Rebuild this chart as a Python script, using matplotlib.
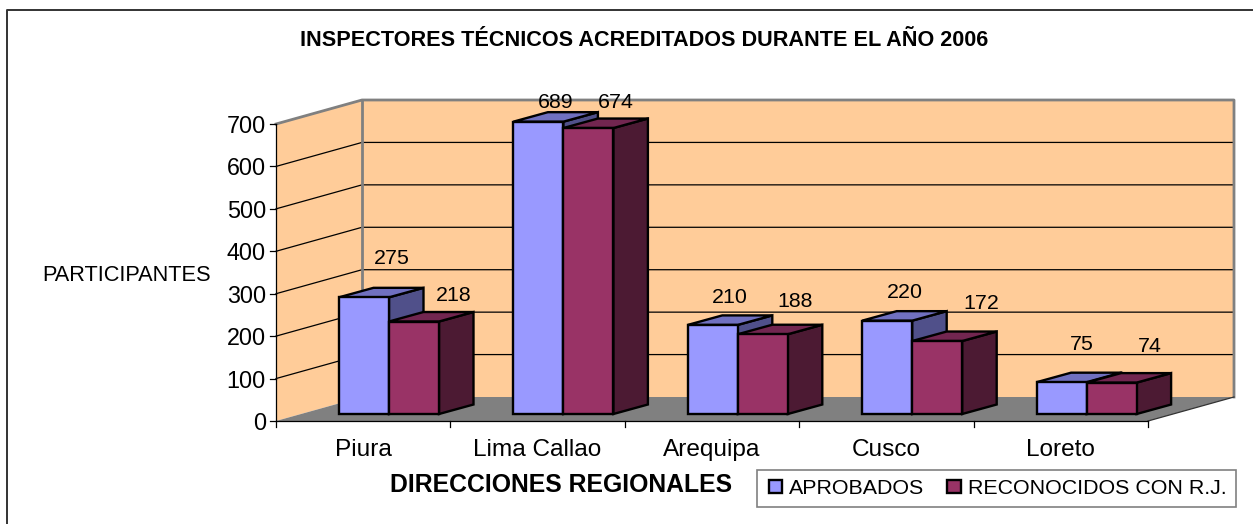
"""Inspectores tecnicos chart drawn as a pseudo 3D column chart."""

import matplotlib

matplotlib.use("Agg")
import matplotlib.pyplot as plt
from matplotlib.patches import Patch, Polygon, Rectangle

plt.rcParams["font.family"] = ["Liberation Sans", "DejaVu Sans"]

REGIONS = ["Piura", "Lima Callao", "Arequipa", "Cusco", "Loreto"]
APROBADOS = [275, 689, 210, 220, 75]
RECONOCIDOS = [218, 674, 188, 172, 74]
Y_TICKS = [0, 100, 200, 300, 400, 500, 600, 700]

TITLE = "INSPECTORES TÉCNICOS ACREDITADOS DURANTE EL AÑO 2006"
X_LABEL = "DIRECCIONES REGIONALES"
Y_LABEL = "PARTICIPANTES"
SERIES_NAMES = ["APROBADOS", "RECONOCIDOS CON R.J."]

# layout: scales from data units to image pixels
W, H = 1253, 524
X0_PX, CAT_PX = 276.0, 174.4
Y0_PX, UNIT_PX = 421.0, 297.0 / 700.0
WALL_DX, WALL_DY = 86.0 / CAT_PX, 24.0 / UNIT_PX
BAR_DX, BAR_DY = 34.5 / CAT_PX, 9.5 / UNIT_PX
BAR_START = 63.0 / CAT_PX
BAR_W = 50.0 / CAT_PX
BAR_LIFT = 7.0 / UNIT_PX
Y_MAX = Y_TICKS[-1]

# label offsets from the centre of the bar top, in pixels
OFFSETS_A = [(28, 41), (17, 21), (17, 29), (18, 30), (20, 40)]
OFFSETS_B = [(40, 28), (27, 28), (32, 35), (44, 40), (38, 38)]

BLUE = ("#9999FF", "#7070C0", "#50508A")
RED = ("#993366", "#722650", "#4C1A33")
WALL = "#FFCC99"
GREY = "#808080"


def draw_box(ax, x, value, colors):
    base = BAR_LIFT
    top = base + value
    x1 = x + BAR_W
    front = [(x, base), (x1, base), (x1, top), (x, top)]
    roof = [(x, top), (x1, top), (x1 + BAR_DX, top + BAR_DY), (x + BAR_DX, top + BAR_DY)]
    side = [(x1, base), (x1 + BAR_DX, base + BAR_DY), (x1 + BAR_DX, top + BAR_DY), (x1, top)]
    for points, color in zip((side, roof, front), (colors[2], colors[1], colors[0])):
        ax.add_patch(
            Polygon(points, closed=True, facecolor=color, edgecolor="black",
                    linewidth=1.7, joinstyle="miter", zorder=5)
        )


def main():
    fig = plt.figure(figsize=(W / 100, H / 100), dpi=100)
    ax = fig.add_axes([0, 0, 1, 1])
    ax.set_xlim(-X0_PX / CAT_PX, (W - X0_PX) / CAT_PX)
    ax.set_ylim((Y0_PX - H) / UNIT_PX, Y0_PX / UNIT_PX)
    ax.axis("off")

    n = len(REGIONS)
    top_wall = Y_MAX + WALL_DY

    # outer chart frame
    ax.plot([-269 / CAT_PX, -269 / CAT_PX, (W + 5 - X0_PX) / CAT_PX],
            [(Y0_PX - H - 5) / UNIT_PX, (Y0_PX - 10) / UNIT_PX, (Y0_PX - 10) / UNIT_PX],
            color="#333333", lw=1.4, zorder=1)

    # walls and floor
    ax.add_patch(Polygon([(0, 0), (WALL_DX, WALL_DY), (WALL_DX, top_wall), (0, Y_MAX)],
                         facecolor=WALL, edgecolor="none", zorder=1))
    ax.add_patch(Rectangle((WALL_DX, WALL_DY), n, Y_MAX, facecolor=WALL, edgecolor="none", zorder=1))
    ax.add_patch(Polygon([(0, 0), (n, 0), (n + WALL_DX, WALL_DY), (WALL_DX, WALL_DY)],
                         facecolor=GREY, edgecolor="none", zorder=2))

    for tick in Y_TICKS[1:-1]:
        ax.plot([0, WALL_DX, n + WALL_DX], [tick, tick + WALL_DY, tick + WALL_DY],
                color="black", lw=0.9, zorder=2)
    ax.plot([0, WALL_DX, n + WALL_DX, n + WALL_DX],
            [Y_MAX, top_wall, top_wall, WALL_DY], color=GREY, lw=2.0, zorder=3)
    ax.plot([WALL_DX, WALL_DX], [WALL_DY, top_wall], color=GREY, lw=2.0, zorder=3)
    ax.plot([n, n + WALL_DX], [0, WALL_DY], color="#333333", lw=0.9, zorder=3)

    # axes lines and ticks
    ax.plot([0, 0], [0, Y_MAX], color="black", lw=0.9, zorder=4)
    ax.plot([0, n], [0, 0], color="black", lw=0.9, zorder=4)
    tick_x = 6.0 / CAT_PX
    tick_y = 6.0 / UNIT_PX
    for tick in Y_TICKS:
        ax.plot([-tick_x, 0], [tick, tick], color="black", lw=0.9, zorder=4)
        ax.text(-10.0 / CAT_PX, tick, str(tick), ha="right", va="center_baseline", fontsize=16.8)
    for i in range(n + 1):
        ax.plot([i, i], [0, -tick_y], color="black", lw=0.9, zorder=4)

    for i, region in enumerate(REGIONS):
        ax.text(i + 0.5, -35.0 / UNIT_PX, region, ha="center", va="baseline", fontsize=17.6)

        x_a = i + BAR_START
        x_b = x_a + BAR_W
        draw_box(ax, x_a, APROBADOS[i], BLUE)
        draw_box(ax, x_b, RECONOCIDOS[i], RED)

        for x, value, (dx, dy) in ((x_a, APROBADOS[i], OFFSETS_A[i]), (x_b, RECONOCIDOS[i], OFFSETS_B[i])):
            ax.annotate(str(value), (x + BAR_W / 2, BAR_LIFT + value),
                        xytext=(dx * 0.72, dy * 0.72), textcoords="offset points",
                        ha="center", va="center_baseline", fontsize=15.4, zorder=6)

    # texts placed in image pixels
    ax.text((644.5 - X0_PX) / CAT_PX, (Y0_PX - 38) / UNIT_PX, TITLE, ha="center",
            va="center_baseline", fontsize=15.6, fontweight="bold")
    ax.text((561 - X0_PX) / CAT_PX, (Y0_PX - 483) / UNIT_PX, X_LABEL, ha="center",
            va="center_baseline", fontsize=17.8, fontweight="bold")
    ax.text((127 - X0_PX) / CAT_PX, (Y0_PX - 273) / UNIT_PX, Y_LABEL, ha="center",
            va="center_baseline", fontsize=15.7)

    # legend box is fixed to the reference, entries sit inside it
    ax.add_patch(Rectangle((757 / W, 1 - 507 / H), 479 / W, 37 / H, transform=fig.transFigure,
                           facecolor="white", edgecolor=GREY, linewidth=1.2, zorder=9))
    handles = [
        Patch(facecolor=BLUE[0], edgecolor="black", linewidth=1.7),
        Patch(facecolor=RED[0], edgecolor="black", linewidth=1.7),
    ]
    legend = ax.legend(
        handles, SERIES_NAMES, ncol=2, loc="center left",
        bbox_to_anchor=(769 / W, 1 - 488.5 / H), bbox_transform=fig.transFigure,
        fontsize=15.4, frameon=False,
        handlelength=0.61, handleheight=0.61, handletextpad=0.33, columnspacing=1.08,
        borderpad=0, borderaxespad=0,
    )
    legend.set_zorder(10)

    fig.savefig("out.png", dpi=100)
    plt.close(fig)


if __name__ == "__main__":
    main()
